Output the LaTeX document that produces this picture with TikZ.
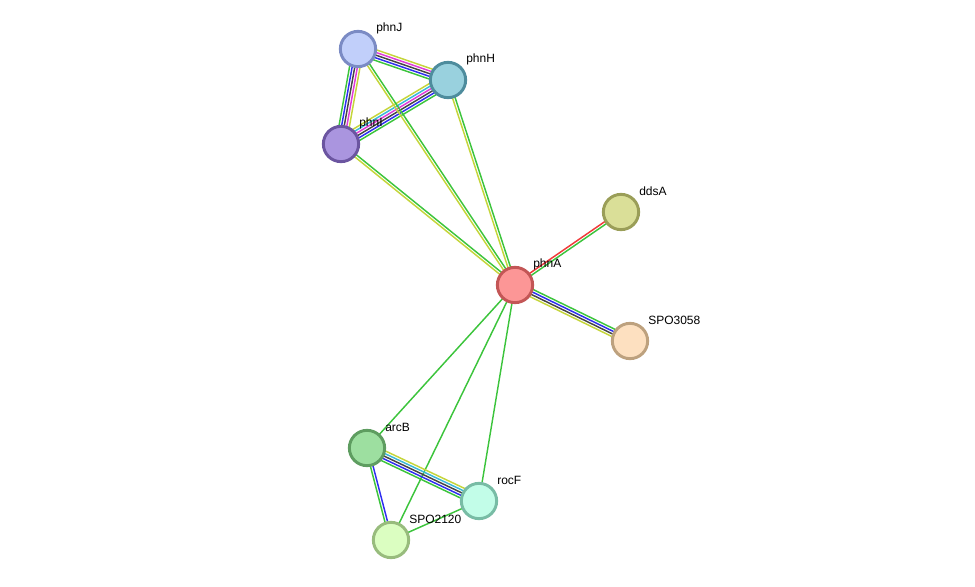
\documentclass[tikz,border=0pt]{standalone}
\usepackage{fontspec}
\setmainfont{Liberation Sans}
\usepackage{tikz}
\usetikzlibrary{calc,backgrounds}
\definecolor{lkgreen}{HTML}{3CC43C}
\definecolor{lkyellow}{HTML}{C5D53A}
\definecolor{lkmagenta}{HTML}{E03AD8}
\definecolor{lkdark}{HTML}{444444}
\definecolor{lkblue}{HTML}{2E2EF0}
\definecolor{lkcyan}{HTML}{3AB8D8}
\definecolor{lkred}{HTML}{F03A3A}
\definecolor{jline}{HTML}{7B8BC4}\definecolor{jfill}{HTML}{C1CFFA}
\definecolor{hline}{HTML}{4E8C9D}\definecolor{hfill}{HTML}{99D1DE}
\definecolor{iline}{HTML}{6B55A0}\definecolor{ifill}{HTML}{AA95DF}
\definecolor{dline}{HTML}{9A9E58}\definecolor{dfill}{HTML}{DADF98}
\definecolor{aline}{HTML}{C35656}\definecolor{afill}{HTML}{FC9696}
\definecolor{sline}{HTML}{BDA17E}\definecolor{sfill}{HTML}{FDE0C0}
\definecolor{bline}{HTML}{5E9D60}\definecolor{bfill}{HTML}{9DDFA0}
\definecolor{rline}{HTML}{78BCA5}\definecolor{rfill}{HTML}{C2FDE8}
\definecolor{pline}{HTML}{98BC7D}\definecolor{pfill}{HTML}{DBFEC1}
% draws one edge as parallel coloured lines, first colour on the left of a->b
\newcommand{\linkab}[3]{%
  \foreach \c [count=\i] in {#3} {\xdef\nlinks{\i}}
  \foreach \c [count=\i] in {#3} {
    \pgfmathsetmacro{\off}{((\nlinks+1)/2-\i)*1.95}
    \draw[link,\c] ($(#1)!\off pt!90:(#2)$) -- ($(#2)!\off pt!-90:(#1)$);
  }}

\begin{document}
\begin{tikzpicture}[
  x=0.75pt,y=-0.75pt,
  prot/.style={circle,line width=2.2pt,minimum size=26.5pt,inner sep=0pt},
  lab/.style={anchor=west,inner sep=0pt,font=\fontsize{9}{10}\selectfont},
  link/.style={line width=1.1pt}
]
\useasboundingbox (0,0) rectangle (975,586);
\node[prot,draw=jline,fill=jfill] (phnJ) at (358,49) {};
\node[prot,draw=hline,fill=hfill] (phnH) at (448,80) {};
\node[prot,draw=iline,fill=ifill] (phnI) at (341,144) {};
\node[prot,draw=dline,fill=dfill] (ddsA) at (621,212) {};
\node[prot,draw=aline,fill=afill] (phnA) at (515,285) {};
\node[prot,draw=sline,fill=sfill] (spo3058) at (630,341) {};
\node[prot,draw=bline,fill=bfill] (arcB) at (367,448) {};
\node[prot,draw=rline,fill=rfill] (rocF) at (479,501) {};
\node[prot,draw=pline,fill=pfill] (spo2120) at (391,540) {};
% labels
\node[lab] (phnJ-l) at ($(phnJ)+(18,-21)$) {phnJ};
\node[lab] (phnH-l) at ($(phnH)+(18,-21)$) {phnH};
\node[lab] (phnI-l) at ($(phnI)+(18,-21)$) {phnI};
\node[lab] (ddsA-l) at ($(ddsA)+(18,-21)$) {ddsA};
\node[lab] (phnA-l) at ($(phnA)+(18,-21)$) {phnA};
\node[lab] (spo3058-l) at ($(spo3058)+(18,-21)$) {SPO3058};
\node[lab] (arcB-l) at ($(arcB)+(18,-21)$) {arcB};
\node[lab] (rocF-l) at ($(rocF)+(18,-21)$) {rocF};
\node[lab] (spo2120-l) at ($(spo2120)+(18,-21)$) {SPO2120};
% edges
\begin{scope}[on background layer]
\linkab{phnJ}{phnH}{lkyellow,lkmagenta,lkdark,lkblue,lkgreen}
\linkab{phnJ}{phnI}{lkyellow,lkmagenta,lkdark,lkblue,lkgreen}
\linkab{phnI}{phnH}{lkyellow,lkcyan,lkmagenta,lkdark,lkblue,lkgreen}
\linkab{phnJ}{phnA}{lkgreen,lkyellow}
\linkab{phnH}{phnA}{lkgreen,lkyellow}
\linkab{phnI}{phnA}{lkgreen,lkyellow}
\linkab{phnA}{ddsA}{lkred,lkgreen}
\linkab{phnA}{spo3058}{lkgreen,lkblue,lkdark,lkyellow}
\linkab{phnA}{arcB}{lkgreen}
\linkab{phnA}{spo2120}{lkgreen}
\linkab{phnA}{rocF}{lkgreen}
\linkab{arcB}{rocF}{lkyellow,lkcyan,lkdark,lkblue,lkgreen}
\linkab{arcB}{spo2120}{lkblue,lkgreen}
\linkab{spo2120}{rocF}{lkgreen}
\end{scope}
\end{tikzpicture}
\end{document}
